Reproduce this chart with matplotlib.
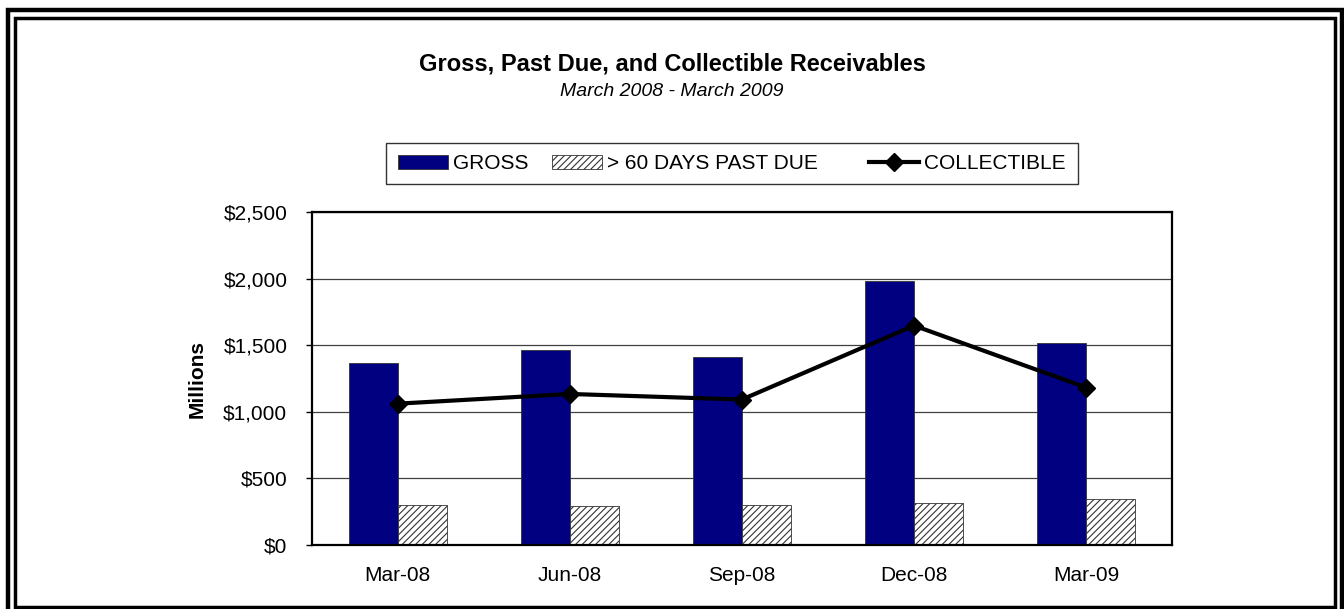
#!/usr/bin/env python3
"""
Gross, Past Due, and Collectible Receivables - bar + line chart
"""

import matplotlib
matplotlib.use("Agg")
import matplotlib.pyplot as plt
from matplotlib.patches import Rectangle, Patch
from matplotlib.lines import Line2D
from matplotlib.ticker import FuncFormatter
import numpy as np

# data (millions of dollars)
quarters = ["Mar-08", "Jun-08", "Sep-08", "Dec-08", "Mar-09"]
gross = [1366, 1464, 1413, 1985, 1519]
past_due = [298, 291, 298, 318, 346]
collectible = [1062, 1135, 1093, 1649, 1183]

W, H = 1344, 609

plt.rcParams['font.family'] = ['Liberation Sans', 'DejaVu Sans']
plt.rcParams['hatch.color'] = '#555555'
plt.rcParams['hatch.linewidth'] = 0.8


def fx(px):
    return px / W


def fy(py):
    return 1 - py / H


fig = plt.figure(figsize=(W / 100, H / 100), dpi=100)

# double frame around the whole chart
fig.add_artist(Rectangle((fx(7.5), fy(640)), fx(1342) - fx(7.5), fy(9.7) - fy(640),
                         transform=fig.transFigure, fill=False, ec='black', lw=3.2,
                         clip_on=False))
fig.add_artist(Rectangle((fx(15), fy(606.7)), fx(1334.7) - fx(15), fy(17.8) - fy(606.7),
                         transform=fig.transFigure, fill=False, ec='black', lw=2.5,
                         clip_on=False))

ax = fig.add_axes([fx(311.7), fy(545), fx(1172) - fx(311.7), fy(212.3) - fy(545)])

x = np.arange(len(quarters))
bw = 0.285
ax.bar(x - bw / 2, gross, bw, color='#000080', edgecolor='#333333', linewidth=0.6, zorder=2)
ax.bar(x + bw / 2, past_due, bw, color='white', edgecolor='#333333', linewidth=0.6,
       hatch='/////', zorder=2)
ax.plot(x, collectible, color='black', lw=3, marker='D', markersize=9, zorder=3)

ax.set_xlim(-0.5, len(quarters) - 0.5)
ax.set_ylim(0, 2500)
ax.set_yticks(np.arange(0, 2501, 500))
ax.yaxis.set_major_formatter(FuncFormatter(lambda v, p: f"${v:,.0f}"))
ax.set_xticks(x)
ax.set_xticklabels(quarters)
ax.tick_params(axis='y', direction='out', length=4.5, width=1, pad=13, labelsize=15)
ax.tick_params(axis='x', length=0, pad=15, labelsize=15)

ax.grid(axis='y', color='#404040', lw=0.9, zorder=1)
ax.set_axisbelow(True)
for s in ax.spines.values():
    s.set_linewidth(1.6)
    s.set_color('black')

ax.set_ylabel('Millions', fontsize=15, fontweight='bold')
ax.yaxis.set_label_coords((207 - 311.7) / (1172 - 311.7), 0.5)

# titles
fig.text(0.5, fy(64), 'Gross, Past Due, and Collectible Receivables',
         ha='center', va='center', fontsize=17, fontweight='bold')
fig.text(0.5, fy(92), 'March 2008 - March 2009',
         ha='center', va='center', fontsize=14, style='italic')

# legend
handles = [
    Patch(facecolor='#000080', edgecolor='#333333', lw=0.6),
    Patch(facecolor='white', edgecolor='#333333', lw=0.6, hatch='/////'),
    Line2D([], [], color='black', lw=3, marker='D', markersize=9),
]
labels = ['GROSS', '> 60 DAYS PAST DUE     ', 'COLLECTIBLE']
leg = fig.legend(handles, labels, loc='center', bbox_to_anchor=(fx(732), fy(163.5)),
                 ncol=3, fontsize=15, frameon=True, fancybox=False, shadow=False,
                 handlelength=2.4, handleheight=0.65, handletextpad=0.25,
                 columnspacing=1.1, borderpad=0.55, borderaxespad=0)
leg.get_frame().set_edgecolor('black')
leg.get_frame().set_linewidth(1)

fig.savefig('out.png', dpi=100)
